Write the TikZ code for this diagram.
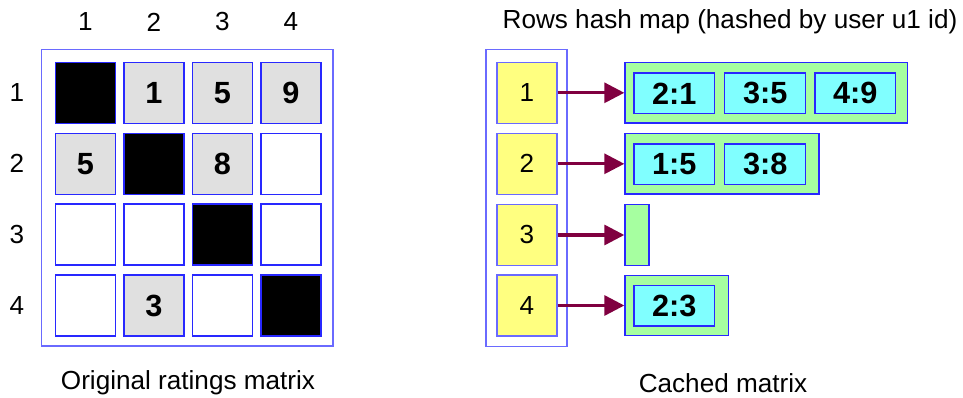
\documentclass[tikz,border=0pt]{standalone}
\usepackage{fontspec}
\setmainfont{Liberation Sans}
\usetikzlibrary{arrows.meta}
\definecolor{frameblue}{HTML}{6A6AFF}
\definecolor{cellblue}{HTML}{2828FF}
\definecolor{cellgray}{HTML}{E0E0E0}
\definecolor{cellyellow}{HTML}{FFFF80}
\definecolor{cellgreen}{HTML}{A6FFA0}
\definecolor{cellcyan}{HTML}{80FFFF}
\definecolor{arrowred}{HTML}{800040}
\begin{document}
\begin{tikzpicture}[x=0.75pt,y=-0.75pt,
  lbl/.style={font=\fontsize{19.6}{22}\selectfont, inner sep=0pt},
  frame/.style={draw=frameblue, line width=1.1pt, inner sep=0pt},
  cell/.style={draw=cellblue, line width=0.9pt, minimum width=45pt, minimum height=45.75pt, inner sep=0pt, font=\fontsize{23}{26}\selectfont\bfseries},
  wcell/.style={cell, fill=white},
  gcell/.style={cell, fill=cellgray},
  bcell/.style={cell, fill=black},
  ycell/.style={cell, fill=cellyellow, draw=frameblue, font=\fontsize{19.6}{22}\selectfont},
  green/.style={draw=cellblue, line width=0.9pt, fill=cellgreen, minimum height=45.4pt, inner sep=0pt, anchor=west},
  cyan/.style={draw=cellblue, line width=0.9pt, fill=cellcyan, minimum width=60.5pt, minimum height=30.5pt, inner sep=0pt, font=\fontsize{23}{26}\selectfont\bfseries},
  arr/.style={draw=arrowred, line width=2.4pt, -{Triangle[length=15pt,width=15pt]}}
]
\useasboundingbox (0,0) rectangle (963,398);

% ---------- left matrix ----------
\node[frame, minimum width=218.5pt, minimum height=222.5pt] (lframe) at (187.4,197.7) {};

\node[lbl] (c1) at (85.5,22) {1};
\node[lbl] (c2) at (154,22) {2};
\node[lbl] (c3) at (222.5,22) {3};
\node[lbl] (c4) at (291,22) {4};
\node[lbl] (r1) at (17,92.8) {1};
\node[lbl] (r2) at (17,163.8) {2};
\node[lbl] (r3) at (17,234.6) {3};
\node[lbl] (r4) at (17,305.5) {4};

\node[bcell] (m11) at (85.5,92.8) {};
\node[gcell] (m12) at (154,92.8) {1};
\node[gcell] (m13) at (222.5,92.8) {5};
\node[gcell] (m14) at (291,92.8) {9};

\node[gcell] (m21) at (85.5,163.8) {5};
\node[bcell] (m22) at (154,163.8) {};
\node[gcell] (m23) at (222.5,163.8) {8};
\node[wcell] (m24) at (291,163.8) {};

\node[wcell] (m31) at (85.5,234.6) {};
\node[wcell] (m32) at (154,234.6) {};
\node[bcell] (m33) at (222.5,234.6) {};
\node[wcell] (m34) at (291,234.6) {};

\node[wcell] (m41) at (85.5,305.5) {};
\node[gcell] (m42) at (154,305.5) {3};
\node[wcell] (m43) at (222.5,305.5) {};
\node[bcell] (m44) at (291,305.5) {};

\node[lbl] (ltitle) at (188,383) {Original ratings matrix};

% ---------- right: cached matrix ----------
\node[lbl] (rtitle) at (730,22) {Rows hash map (hashed by user u1 id)};
\node[frame, minimum width=60.75pt, minimum height=223pt] (rframe) at (526.5,198) {};

\node[ycell] (y1) at (527,92.8) {1};
\node[ycell] (y2) at (527,163.8) {2};
\node[ycell] (y3) at (527,235) {3};
\node[ycell] (y4) at (527,305.5) {4};

\node[green, minimum width=211.8pt] (g1) at (624.3,92.8) {};
\node[green, minimum width=145.5pt] (g2) at (624.3,163.8) {};
\node[green, minimum width=18pt] (g3) at (624.3,235) {};
\node[green, minimum width=77.5pt] (g4) at (624.3,305.5) {};

\node[cyan] (e12) at (674.3,93.3) {2:1};
\node[cyan] (e13) at (765.2,93.3) {3:5};
\node[cyan] (e14) at (855.3,93.3) {4:9};
\node[cyan] (e21) at (674.3,164.3) {1:5};
\node[cyan] (e23) at (765.2,164.3) {3:8};
\node[cyan] (e42) at (674.3,305.7) {2:3};

\draw[arr] (y1.east) -- (g1.west);
\draw[arr] (y2.east) -- (g2.west);
\draw[arr] (y3.east) -- (g3.west);
\draw[arr] (y4.east) -- (g4.west);

\node[lbl] (rbottom) at (723,383) {Cached matrix};
\end{tikzpicture}
\end{document}
